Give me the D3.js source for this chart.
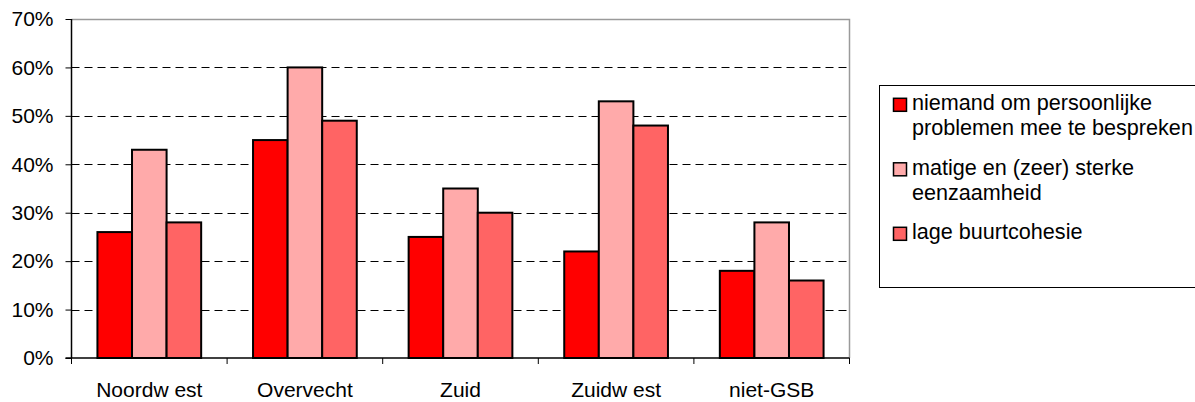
<!DOCTYPE html>
<html>
<head>
<meta charset="utf-8">
<script src="https://cdn.jsdelivr.net/npm/d3@7"></script>
<style>
  html, body { margin: 0; padding: 0; background: #fff; }
  svg { display: block; font-family: "Liberation Sans", Arial, sans-serif; }
</style>
</head>
<body>
<svg id="chart" width="1195" height="402"></svg>
<script>
const categories = ["Noordw est", "Overvecht", "Zuid", "Zuidw est", "niet-GSB"];
const seriesNames = ["niemand om persoonlijke problemen mee te bespreken", "matige en (zeer) sterke eenzaamheid", "lage buurtcohesie"];
const legendLines = [["niemand om persoonlijke", "problemen mee te bespreken"], ["matige en (zeer) sterke", "eenzaamheid"], ["lage buurtcohesie"]];
const niemand = [26, 45, 25, 22, 18];
const eenzaamheid = [43, 60, 35, 53, 28];
const buurtcohesie = [28, 49, 30, 48, 16];
const yTicks = [0, 10, 20, 30, 40, 50, 60, 70];
const colors = ["#FF0000", "#FFAAAA", "#FF6464"];

const seriesValues = [niemand, eenzaamheid, buurtcohesie];

const svg = d3.select("#chart");
const pLeft = 71.5, pRight = 849.5, pTop = 19, pBottom = 358;
const fontSize = 21;

const x0 = d3.scaleBand().domain(categories).range([pLeft, pRight]).paddingInner(0).paddingOuter(0);
const x1 = d3.scaleBand().domain(d3.range(3)).range([0, x0.bandwidth()]).paddingInner(0).paddingOuter(0.75);
const y = d3.scaleLinear().domain([0, 70]).range([pBottom, pTop]);

// gridlines
svg.append("g").selectAll("line").data(yTicks.filter(t => t > 0 && t < 70)).join("line")
  .attr("x1", pLeft).attr("x2", pRight)
  .attr("y1", d => Math.round(y(d)) + 0.5).attr("y2", d => Math.round(y(d)) + 0.5)
  .attr("stroke", "#000").attr("stroke-width", 1).attr("stroke-dasharray", "8,5");

// plot border top and right (gray)
svg.append("path")
  .attr("d", `M${pLeft},${pTop + 0.5}H${pRight}V${pBottom}`)
  .attr("fill", "none").attr("stroke", "#9a9a9a").attr("stroke-width", 1.5);

// bars
const groups = svg.append("g").selectAll("g").data(categories).join("g")
  .attr("transform", d => `translate(${x0(d)},0)`);
groups.selectAll("rect").data((d, i) => seriesValues.map((s, k) => ({k, v: s[i]}))).join("rect")
  .attr("x", d => x1(d.k))
  .attr("y", d => y(d.v))
  .attr("width", x1.bandwidth())
  .attr("height", d => y(0) - y(d.v))
  .attr("fill", d => colors[d.k])
  .attr("stroke", "#000").attr("stroke-width", 2);

// y axis
const yAxis = d3.axisLeft(y).tickValues(yTicks).tickFormat(d => d + "%").tickSize(6).tickPadding(12);
const gy = svg.append("g").attr("transform", `translate(${pLeft},0)`).call(yAxis);
gy.select(".domain").attr("stroke", "#000").attr("stroke-width", 1.5).attr("d", `M0,${pTop}V${pBottom}`);
gy.selectAll(".tick line").attr("stroke", "#000").attr("stroke-width", 1);
gy.selectAll(".tick text").attr("font-size", fontSize).attr("fill", "#000").attr("font-family", "Liberation Sans, Arial, sans-serif");

// x axis
const gx = svg.append("g").attr("transform", `translate(0,${pBottom})`);
gx.append("line").attr("x1", pLeft - 6).attr("x2", pRight).attr("y1", 0).attr("y2", 0)
  .attr("stroke", "#000").attr("stroke-width", 1.5);
const bounds = categories.map(c => x0(c)).concat([pRight]);
gx.selectAll("line.tk").data(bounds).join("line").attr("class", "tk")
  .attr("x1", d => d).attr("x2", d => d).attr("y1", 0).attr("y2", 6)
  .attr("stroke", "#000").attr("stroke-width", 1);
gx.selectAll("text").data(categories).join("text")
  .attr("x", d => x0(d) + x0.bandwidth() / 2)
  .attr("y", 38.5)
  .attr("text-anchor", "middle")
  .attr("font-size", fontSize).attr("fill", "#000")
  .text(d => d);

// legend
const lg = svg.append("g");
lg.append("rect").attr("x", 879.5).attr("y", 85.5).attr("width", 330).attr("height", 202)
  .attr("fill", "#fff").attr("stroke", "#000").attr("stroke-width", 1);
const itemY = [104.8, 169.3, 233.8];
legendLines.forEach((lines, i) => {
  lg.append("rect").attr("x", 893.5).attr("y", itemY[i] - 6.5).attr("width", 13).attr("height", 13)
    .attr("fill", colors[i]).attr("stroke", "#000").attr("stroke-width", 1.5);
  lines.forEach((t, j) => {
    lg.append("text").attr("x", 912).attr("y", itemY[i] + 5.5 + j * 25)
      .attr("font-size", 21.6).attr("fill", "#000").text(t);
  });
});
</script>
</body>
</html>
